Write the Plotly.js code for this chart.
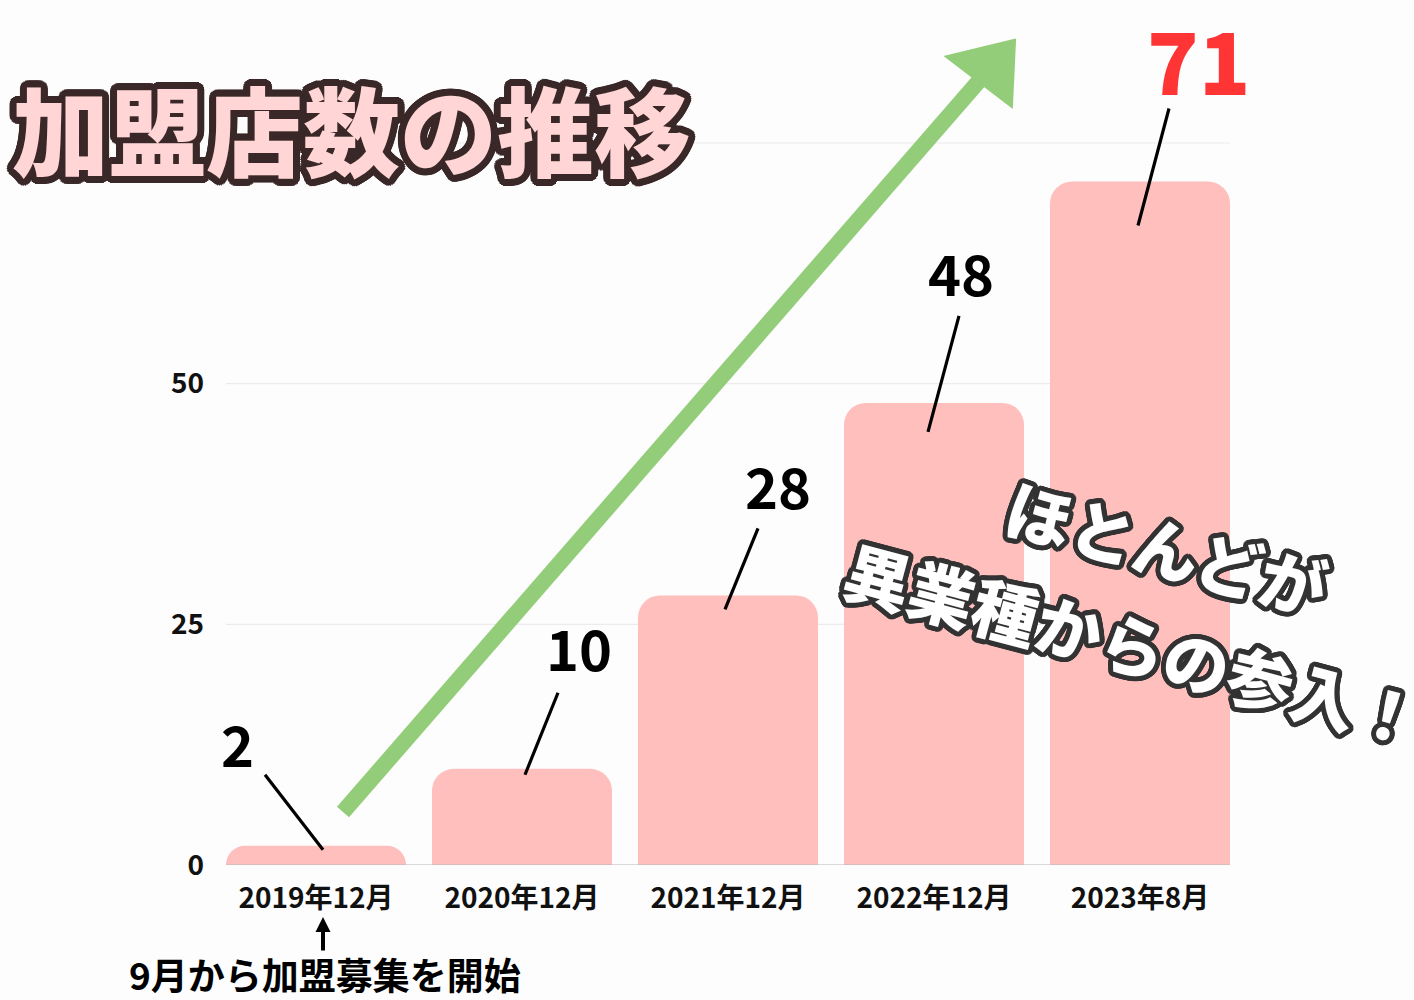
<!DOCTYPE html>
<html><head><meta charset="utf-8">
<script src="https://cdn.plot.ly/plotly-3.0.1.min.js"></script>
<style>html,body{margin:0;padding:0;background:#fdfdfd}</style>
</head><body><div id="chart" style="width:1414px;height:1000px"></div>
<script>
// ---- data ----
const categories = ['2019年12月', '2020年12月', '2021年12月', '2022年12月', '2023年8月'];
const storeCounts = [2, 10, 28, 48, 71];
const yTickValues = [0, 25, 50];
const yTickLabels = ['0', '25', '50'];
const gridValues = [25, 50, 75];
const chartTitle = '加盟店数の推移';
const noteLine1 = 'ほとんどが';
const noteLine2 = '異業種からの参入！';
const startNote = '9月から加盟募集を開始';

// ---- style (pixel offsets relative to each bar top) ----
const labelShift = [[-79, 103], [57, 122], [50, 111], [27, 131], [59, 124]];
const leaderShift = [[-51, 71, 7, -4], [36, 76, 3, -6], [30, 67, -3, -14], [25, 87, -6, -29], [29, 73, -2, -44]];
const BARGAP = 0.126;
const FONT = '"Noto Sans CJK JP", "Noto Sans", sans-serif';
const L = 213, R = 171, T = 30, B = 135, W = 1414, H = 1000;
const PW = W - L - R, PH = H - T - B;
const pxPerUnit = 722 / 75;
const yMax = PH / pxPerUnit;
const GREEN = '#93cd79';

function outline(color, r) {
  const parts = [];
  [r, r * 0.66, r * 0.33].forEach(rr => {
    for (let a = 0; a < 360; a += 15) {
      const rad = a * Math.PI / 180;
      parts.push((rr * Math.cos(rad)).toFixed(1) + 'px ' + (rr * Math.sin(rad)).toFixed(1) + 'px 0 ' + color);
    }
  });
  return parts.join(', ');
}
const px2paperX = p => (p - L) / PW;
const px2paperY = p => (H - B - p) / PH;

const trace = {
  type: 'bar',
  x: categories,
  y: storeCounts,
  marker: { color: '#ffbfbd', cornerradius: 22 },
  hoverinfo: 'skip'
};

const shapes = [];
const xLeft = -0.5 + BARGAP / 2, xRight = categories.length - 0.5 - BARGAP / 2;
gridValues.forEach(v => shapes.push({
  type: 'line', xref: 'x', yref: 'y', x0: xLeft, x1: xRight, y0: v, y1: v,
  line: { color: '#ececec', width: 1.2 }, layer: 'below'
}));
shapes.push({ type: 'line', xref: 'x', yref: 'y', x0: xLeft, x1: xRight, y0: 0, y1: 0,
  line: { color: '#b8b8b8', width: 1.2 }, layer: 'above' });

storeCounts.forEach((v, i) => {
  const s = leaderShift[i];
  shapes.push({
    type: 'line', xref: 'x', yref: 'y', xsizemode: 'pixel', ysizemode: 'pixel',
    xanchor: i, yanchor: v, x0: s[0], y0: s[1], x1: s[2], y1: s[3],
    line: { color: '#000', width: 3.2 }, layer: 'above'
  });
});

// green trend arrow (decoration, in paper space)
const arrowTail = [343, 812], arrowBase = [979, 81];
const headPts = [[1014, 41], [948, 57], [1011, 105]];
shapes.push({ type: 'line', xref: 'paper', yref: 'paper',
  x0: px2paperX(arrowTail[0]), y0: px2paperY(arrowTail[1]),
  x1: px2paperX(arrowBase[0]), y1: px2paperY(arrowBase[1]),
  line: { color: GREEN, width: 16 }, layer: 'above' });
shapes.push({ type: 'path', xref: 'paper', yref: 'paper',
  path: 'M' + headPts.map(p => px2paperX(p[0]).toFixed(5) + ',' + px2paperY(p[1]).toFixed(5)).join('L') + 'Z',
  fillcolor: GREEN, line: { color: GREEN, width: 4 }, layer: 'above' });

const annotations = [];
storeCounts.forEach((v, i) => {
  const last = i === storeCounts.length - 1;
  annotations.push({
    xref: 'x', yref: 'y', x: i, y: v, xshift: labelShift[i][0], yshift: labelShift[i][1],
    text: String(v), showarrow: false, xanchor: 'center', yanchor: 'middle',
    font: { family: FONT, size: last ? 85 : 56, weight: last ? 900 : 700, color: last ? '#ff3434' : '#000' }
  });
});

// rotated note
const noteFont = { family: FONT, size: 66, weight: 900, color: '#ffffff', shadow: outline('#333333', 5) };
annotations.push({ xref: 'paper', yref: 'paper', x: px2paperX(1167), y: px2paperY(546),
  text: noteLine1, showarrow: false, textangle: 15, xanchor: 'center', yanchor: 'middle', font: noteFont });
annotations.push({ xref: 'paper', yref: 'paper', x: px2paperX(1134), y: px2paperY(643),
  text: noteLine2, showarrow: false, textangle: 15, xanchor: 'center', yanchor: 'middle', font: noteFont });

// start note
annotations.push({ xref: 'paper', yref: 'paper', x: px2paperX(323), y: px2paperY(917),
  ax: 0, ay: 35, text: '', showarrow: true, arrowhead: 2, arrowsize: 0.75, arrowwidth: 4, arrowcolor: '#000' });
annotations.push({ xref: 'paper', yref: 'paper', x: px2paperX(325), y: px2paperY(974),
  text: startNote, showarrow: false, xanchor: 'center', yanchor: 'middle',
  font: { family: FONT, size: 37, weight: 700, color: '#000' } });

const layout = {
  width: W, height: H,
  margin: { l: L, r: R, t: T, b: B },
  paper_bgcolor: '#fdfdfd', plot_bgcolor: '#fdfdfd',
  bargap: BARGAP,
  showlegend: false,
  title: {
    text: chartTitle, xref: 'container', yref: 'container',
    x: 12 / W, xanchor: 'left', y: 1 - 135 / H, yanchor: 'middle',
    font: { family: FONT, size: 97, weight: 900, color: '#ffd5d5', shadow: outline('#3a2828', 7) }
  },
  xaxis: {
    type: 'category', range: [-0.5, categories.length - 0.5],
    showgrid: false, zeroline: false, showline: false, ticks: '', ticklabelstandoff: 14,
    tickfont: { family: FONT, size: 28, weight: 700, color: '#111' }, fixedrange: true
  },
  yaxis: {
    range: [0, yMax], tickvals: yTickValues, ticktext: yTickLabels,
    showgrid: false, zeroline: false, showline: false, ticks: '', ticklabelstandoff: 8,
    tickfont: { family: FONT, size: 28, weight: 700, color: '#111' }, fixedrange: true
  },
  shapes: shapes,
  annotations: annotations
};

Plotly.newPlot('chart', [trace], layout, { displayModeBar: false, staticPlot: true });
</script>
</body></html>
